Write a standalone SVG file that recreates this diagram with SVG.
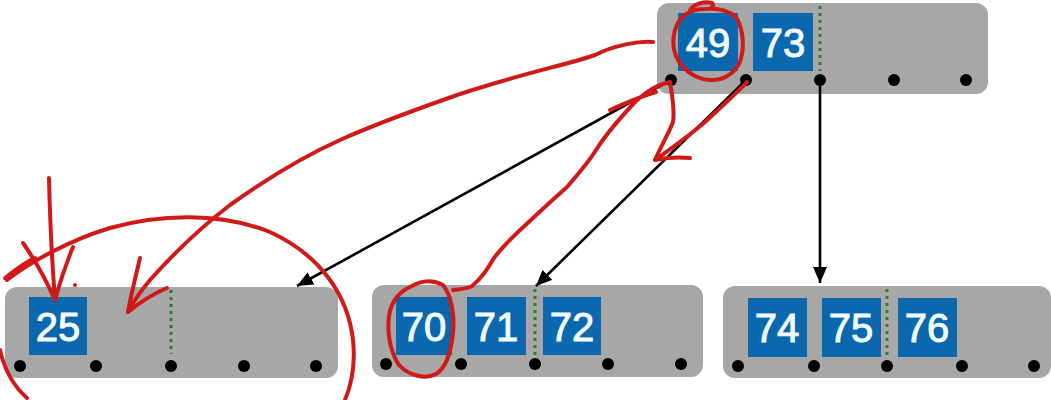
<svg xmlns="http://www.w3.org/2000/svg" width="1051" height="400" viewBox="0 0 1051 400">
<defs>
<style>
.node{fill:#a7a7a7}
.key{fill:#0b68ae}
.kt{font-family:"Liberation Sans",Arial,sans-serif;font-size:40px;fill:#f2fbff;stroke:#f2fbff;stroke-width:1;text-anchor:middle}
.sep{stroke:#2f7d2f;stroke-width:3;stroke-dasharray:3 4}
.dot{fill:#000}
.edge{stroke:#000;stroke-width:2.6;fill:none}
.ink{stroke:#d01a1a;stroke-width:4;fill:none;stroke-linecap:round;stroke-linejoin:round}
</style>
<marker id="ah" viewBox="0 0 16 14" refX="16" refY="7" markerWidth="16" markerHeight="14" markerUnits="userSpaceOnUse" orient="auto"><path d="M0,0 L16,7 L0,14 Z" fill="#000"/></marker>
</defs>
<rect width="1051" height="400" fill="#fff"/>

<g id="root">
<rect class="node" x="657" y="3" width="331" height="91" rx="12"/>
<rect class="key" x="678" y="13" width="60" height="58"/>
<text class="kt" x="708" y="57">49</text>
<rect class="key" x="753" y="13" width="60" height="58"/>
<text class="kt" x="783" y="57">73</text>
<line class="sep" x1="820" y1="6" x2="820" y2="71"/>
<circle class="dot" cx="671" cy="80" r="6"/><circle class="dot" cx="746" cy="80" r="6"/><circle class="dot" cx="820" cy="80" r="6"/><circle class="dot" cx="894" cy="80" r="6"/><circle class="dot" cx="966" cy="80" r="6"/>
</g>

<g id="leaf1">
<rect class="node" x="5" y="287" width="333" height="91" rx="12"/>
<rect class="key" x="29" y="297" width="58" height="58"/>
<text class="kt" x="58" y="341">25</text>
<line class="sep" x1="171" y1="290" x2="171" y2="354"/>
<circle class="dot" cx="20" cy="366" r="6"/><circle class="dot" cx="96" cy="366" r="6"/><circle class="dot" cx="171" cy="366" r="6"/><circle class="dot" cx="244" cy="366" r="6"/><circle class="dot" cx="316" cy="366" r="6"/>
</g>

<g id="leaf2">
<rect class="node" x="372" y="285" width="331" height="92" rx="12"/>
<rect class="key" x="396" y="297" width="56" height="58"/>
<text class="kt" x="424" y="341">70</text>
<rect class="key" x="467" y="297" width="59" height="58"/>
<text class="kt" x="496" y="341">71</text>
<line class="sep" x1="535" y1="289" x2="535" y2="355"/>
<rect class="key" x="543" y="297" width="58" height="58"/>
<text class="kt" x="572" y="341">72</text>
<circle class="dot" cx="386" cy="364" r="6"/><circle class="dot" cx="461" cy="364" r="6"/><circle class="dot" cx="535" cy="364" r="6"/><circle class="dot" cx="608" cy="364" r="6"/><circle class="dot" cx="681" cy="364" r="6"/>
</g>

<g id="leaf3">
<rect class="node" x="723" y="286" width="328" height="92" rx="12"/>
<rect class="key" x="748" y="298" width="59" height="59"/>
<text class="kt" x="777" y="342">74</text>
<rect class="key" x="822" y="298" width="59" height="59"/>
<text class="kt" x="851" y="342">75</text>
<line class="sep" x1="887" y1="289" x2="887" y2="357"/>
<rect class="key" x="898" y="298" width="59" height="59"/>
<text class="kt" x="927" y="342">76</text>
<circle class="dot" cx="738" cy="366" r="6"/><circle class="dot" cx="814" cy="366" r="6"/><circle class="dot" cx="887" cy="366" r="6"/><circle class="dot" cx="962" cy="366" r="6"/><circle class="dot" cx="1034" cy="366" r="6"/>
</g>

<g id="connectors">
<line class="edge" x1="671" y1="80" x2="297" y2="286" marker-end="url(#ah)"/>
<line class="edge" x1="746" y1="80" x2="536" y2="286" marker-end="url(#ah)"/>
<line class="edge" x1="820" y1="80" x2="820" y2="283" marker-end="url(#ah)"/>
</g>

<g id="annotations">
<path class="ink" d="M690,10 C694,4 704,1 712,3 C714,5 713,7 711,8 M705,9 C692,9 680,14 675,30 C670,48 676,66 695,76 C712,84 730,80 739,64 C745,50 744,30 736,17 C728,10 716,8 705,9"/>
<path class="ink" d="M653,42 C638,41 615,45 595,55 C570,64 520,74 460,94 C420,108 380,122 340,140 C300,158 265,180 230,205 C200,228 175,252 150,280 C140,292 133,302 128,312"/>
<path class="ink" d="M140,258 C136,275 131,295 128,312 C140,302 153,294 167,288"/>
<path class="ink" d="M7,280 C30,262 70,240 110,228 C160,214 220,212 270,232 C320,255 348,295 353,340 C356,368 350,388 345,400"/>
<path class="ink" d="M0,350 C4,368 12,385 27,398"/>
<path class="ink" d="M49,178 C50,220 52,262 55,300 M23,243 C35,260 46,280 55,300 C60,282 66,264 73,247"/>
<path class="ink" d="M5,278 C15,270 25,262 35,258"/>
<circle cx="75" cy="285" r="2" fill="#d01a1a"/>
<path class="ink" d="M410,287 C420,281 432,279 443,285 C451,295 455,315 453,333 C451,352 446,368 436,374 C425,380 408,375 399,365 C390,352 387,332 389,316 C391,303 397,293 410,287"/>
<path class="ink" d="M453,290 C460,289 468,289 472,286 C482,278 488,268 494,258 C505,243 520,230 533,218 C548,204 558,195 567,187 C580,172 590,160 596,150 C605,136 618,120 636,101 C648,90 660,84 670,82 M610,110 C628,102 642,96 656,92"/>
<path class="ink" d="M670,82 C672,95 675,110 673,122 C668,135 660,148 655,160 C665,158 678,157 690,158"/>
<path class="ink" d="M747,82 C735,95 720,108 705,122 C690,135 672,148 655,160"/>
</g>
</svg>
